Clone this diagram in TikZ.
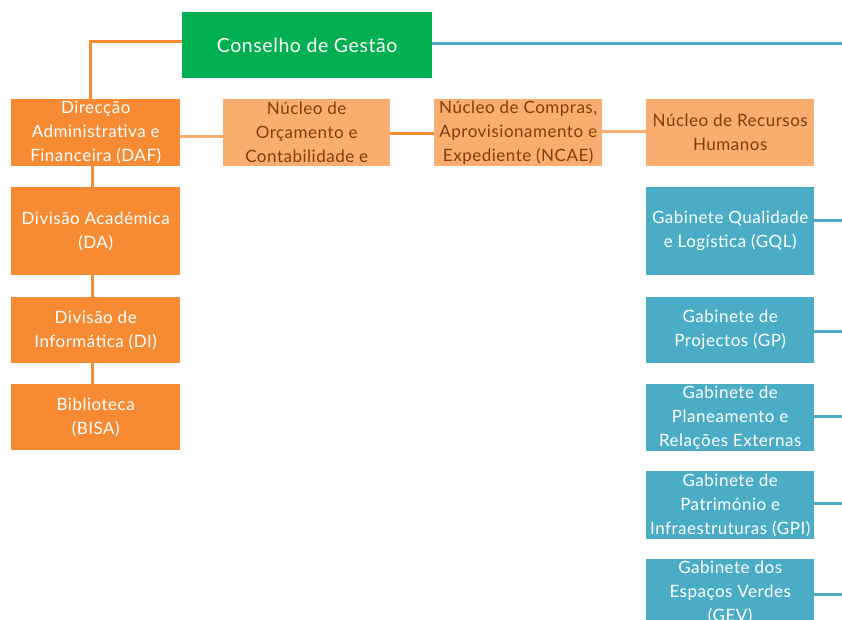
\documentclass[tikz,border=0pt]{standalone}
\usepackage{fontspec}
\setmainfont{Lato}[LetterSpace=3]
\definecolor{cgreen}{HTML}{00B050}
\definecolor{corange}{HTML}{F68B33}
\definecolor{clight}{HTML}{F9AD6E}
\definecolor{cbrown}{HTML}{843C0C}
\definecolor{cblue}{HTML}{4BACC6}
\begin{document}
\begin{tikzpicture}[x=1pt,y=-1pt,
  unit/.style={anchor=north west,inner sep=0pt,minimum width=169pt,align=center,
    font=\fontsize{17}{24}\selectfont},
  board/.style={unit,fill=cgreen,text=white,minimum width=250pt,minimum height=66pt,
    font=\fontsize{19.5}{24}\selectfont},
  division/.style={unit,fill=corange,text=white},
  nucleo/.style={unit,fill=clight,text=cbrown,minimum width=168pt},
  office/.style={unit,fill=cblue,text=white,minimum width=168pt},
  oline/.style={draw=corange,line width=3pt},
  lline/.style={draw=clight,line width=3pt},
  bline/.style={draw=cblue,line width=3pt}]
\clip (0,0) rectangle (842,619);
\fill[white] (0,0) rectangle (842,619);

% governing board
\node[board] (cg) at (182,12) {Conselho de Gestão};

% administrative branch
\node[division,minimum height=67pt] (daf) at (11,99) {Direcção\\Administrativa e\\Financeira (DAF)};
\node[division,minimum height=88pt] (da) at (11,187) {Divisão Académica\\(DA)};
\node[division,minimum height=66pt] (di) at (11,297) {Divisão de\\Informática (DI)};
\node[division,minimum height=66pt] (bisa) at (11,384) {Biblioteca\\(BISA)};

% units
\node[nucleo,minimum width=167pt,minimum height=67pt] (noc) at (223,99) {Núcleo de\\Orçamento e\\Contabilidade e};
\node[nucleo,minimum height=67pt] (ncae) at (434,99) {Núcleo de Compras,\\Aprovisionamento e\\Expediente (NCAE)};
\node[nucleo,minimum height=67pt] (nrh) at (646,99) {Núcleo de Recursos\\Humanos};

% offices
\node[office,minimum height=88pt] (gql) at (646,187) {Gabinete Qualidade\\e Logística (GQL)};
\node[office,minimum height=66pt] (gp) at (646,297) {Gabinete de\\Projectos (GP)};
\node[office,minimum height=67pt] (gpre) at (646,384) {Gabinete de\\Planeamento e\\Relações Externas};
\node[office,minimum height=68pt] (gpi) at (646,471) {Gabinete de\\Património e\\Infraestruturas (GPI)};
\node[office,minimum height=67pt] (gev) at (646,559) {Gabinete dos\\Espaços Verdes\\(GEV)};

% right-hand edge for the outgoing blue lines
\coordinate (edge) at (842,0);

% orange connectors
\draw[oline] ([yshift=4pt]cg.west) -| ([xshift=-5pt]daf.north);
\draw[oline] ([xshift=-3pt]daf.south) -- ([xshift=-3pt]da.north);
\draw[oline] ([xshift=-3pt]da.south) -- ([xshift=-3pt]di.north);
\draw[oline] ([xshift=-3pt]di.south) -- ([xshift=-3pt]bisa.north);
\draw[lline] ([yshift=-4pt]daf.east) -- ([yshift=-4pt]noc.west);
\draw[oline] ([yshift=-1pt]noc.east) -- ([yshift=-1pt]ncae.west);
\draw[lline] ([yshift=1pt]ncae.east) -- ([yshift=1pt]nrh.west);

% blue connectors
\draw[bline] ([yshift=2pt]cg.east) -- ([yshift=2pt]cg.east -| edge);
\draw[bline] ([yshift=11pt]gql.east) -- ([yshift=11pt]gql.east -| edge);
\draw[bline] ([yshift=-1pt]gp.east) -- ([yshift=-1pt]gp.east -| edge);
\draw[bline] ([yshift=1pt]gpre.east) -- ([yshift=1pt]gpre.east -| edge);
\draw[bline] ([yshift=2pt]gpi.east) -- ([yshift=2pt]gpi.east -| edge);
\draw[bline] ([yshift=-2pt]gev.east) -- ([yshift=-2pt]gev.east -| edge);
\end{tikzpicture}
\end{document}
